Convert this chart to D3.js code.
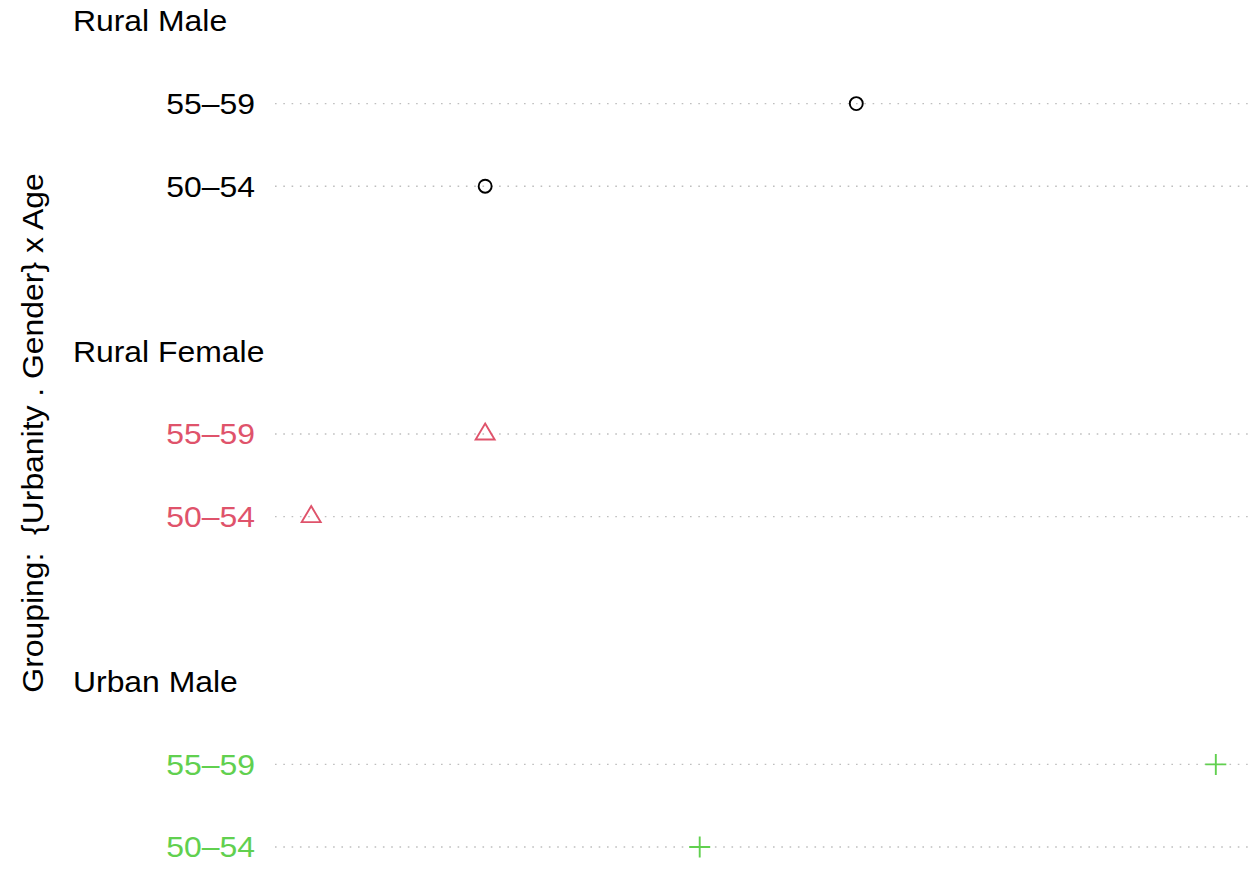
<!DOCTYPE html>
<html>
<head>
<meta charset="utf-8">
<script src="https://cdn.jsdelivr.net/npm/d3@7"></script>
<style>
  html, body { margin: 0; padding: 0; background: #fff; }
  svg { display: block; font-family: "Liberation Sans", Arial, sans-serif; }
  text { white-space: pre; }
</style>
</head>
<body>
<svg id="chart" width="1257" height="873"></svg>
<script>
// Death rates per 1000, grouped by population, rows within each group by age
const groups = ["Rural Male", "Rural Female", "Urban Male"];
const ages = ["50–54", "55–59"];
const ruralMale = [11.7, 18.1];
const ruralFemale = [8.7, 11.7];
const urbanMale = [15.4, 24.3];
const groupColors = ["#000000", "#DF536B", "#61D04F"];
const groupSymbols = ["circle", "triangle", "plus"];
const yTitle = "Grouping:  {Urbanity . Gender} x Age";

const seriesValues = [ruralMale, ruralFemale, urbanMale];

// Build row layout: bottom group first, each group = its age rows + header + gap
const rows = [];
const headers = [];
let pos = 0;
for (let g = groups.length - 1; g >= 0; g--) {
  ages.forEach((age, i) => {
    pos += 1;
    rows.push({ group: g, age, value: seriesValues[g][i], pos });
  });
  pos += 1;
  headers.push({ group: g, label: groups[g], pos });
  pos += 1;
}

const svg = d3.select("#chart");
const FONT = 29;
const STRETCH = 1.1;

const allVals = seriesValues.flat();
const [vmin, vmax] = d3.extent(allVals);
const pad = (vmax - vmin) * 0.04;
const x = d3.scaleLinear().domain([vmin - pad, vmax + pad]).range([275, 1252]);
const y = d3.scaleLinear().domain([1, 11]).range([847, 21]);

// dotted guide lines
svg.append("g").selectAll("line").data(rows).join("line")
  .attr("x1", x.range()[0]).attr("x2", x.range()[1])
  .attr("y1", d => y(d.pos)).attr("y2", d => y(d.pos))
  .attr("stroke", "#BEBEBE").attr("stroke-width", 1.4)
  .attr("stroke-dasharray", "1.6 6.7");

// row labels
svg.append("g").selectAll("text").data(rows).join("text")
  .attr("transform", d => `translate(255,${y(d.pos)}) scale(${STRETCH},1)`)
  .attr("text-anchor", "end").attr("dominant-baseline", "central")
  .attr("font-size", FONT)
  .attr("fill", d => groupColors[d.group])
  .text(d => d.age);

// group headers
svg.append("g").selectAll("text").data(headers).join("text")
  .attr("transform", d => `translate(73,${y(d.pos)}) scale(${STRETCH},1)`)
  .attr("dominant-baseline", "central")
  .attr("font-size", FONT)
  .attr("fill", "#000")
  .text(d => d.label);

// points
const pts = svg.append("g");
rows.forEach(d => {
  const cx = x(d.value), cy = y(d.pos), col = groupColors[d.group];
  const sym = groupSymbols[d.group];
  if (sym === "circle") {
    pts.append("circle").attr("cx", cx).attr("cy", cy).attr("r", 6.5)
      .attr("fill", "none").attr("stroke", col).attr("stroke-width", 1.9);
  } else if (sym === "triangle") {
    pts.append("path")
      .attr("d", `M${cx},${cy - 10.5}L${cx + 9.5},${cy + 5.5}L${cx - 9.5},${cy + 5.5}Z`)
      .attr("fill", "none").attr("stroke", col).attr("stroke-width", 1.9);
  } else {
    const s = 10.5;
    pts.append("path")
      .attr("d", `M${cx - s},${cy}H${cx + s}M${cx},${cy - s}V${cy + s}`)
      .attr("fill", "none").attr("stroke", col).attr("stroke-width", 1.9);
  }
});

// y-axis title
svg.append("text")
  .attr("transform", `translate(43,433) rotate(-90) scale(${STRETCH},1)`)
  .attr("text-anchor", "middle")
  .attr("font-size", FONT)
  .attr("fill", "#000")
  .text(yTitle);
</script>
</body>
</html>
